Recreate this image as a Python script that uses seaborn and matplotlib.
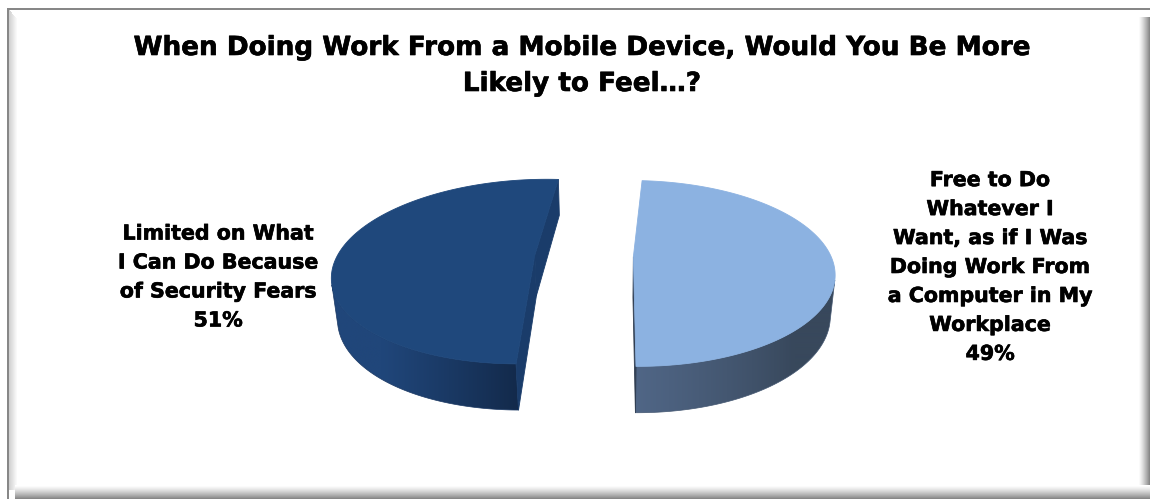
import numpy as np
import matplotlib
matplotlib.use("Agg")
import matplotlib.pyplot as plt
import matplotlib.patheffects as pe
import seaborn as sns
from matplotlib.patches import Polygon, Rectangle
from matplotlib.colors import to_rgb

sns.set_theme(style="white")
plt.rcParams["font.family"] = ["DejaVu Sans"]

# ---- data ----
title = "When Doing Work From a Mobile Device, Would You Be More\nLikely to Feel\u2026?"
categories = [
    "Free to Do\nWhatever I\nWant, as if I Was\nDoing Work From\na Computer in My\nWorkplace",
    "Limited on What\nI Can Do Because\nof Security Fears",
]
shares = [49, 51]

# ---- styling ----
top_colors = ["#8cb2e1", "#1f487c"]
side_lit = ["#506686", "#20467a"]
side_shade = ["#38485c", "#132a4b"]
cut_colors = ["#2f3d51", "#1a3c6a"]
shade_range = [(-0.3, 0.45), (0.45, 0.9)]
label_pos = [(990, 267), (218, 277)]

W, H = 1150, 499
fig = plt.figure(figsize=(W / 100, H / 100), dpi=100)
ax = fig.add_axes([0, 0, 1, 1])
ax.set_xlim(0, W)
ax.set_ylim(H, 0)
ax.axis("off")

# ---- chart frame with bevel / shadow ----
gray = "#878787"
ax.add_patch(Rectangle((7, 8), W - 7, 2, color=gray, lw=0, zorder=5))
ax.add_patch(Rectangle((7, 8), 2, H - 8, color=gray, lw=0, zorder=5))
for i in range(9):  # left inner bevel
    c = 0.82 + 0.18 * i / 8
    ax.add_patch(Rectangle((9 + i, 10 + i * 1.2), 1, 480 - i * 1.2,
                           color=(c, c, c), lw=0, zorder=4))
for i in range(12):  # right shadow
    c = 1.0 - 0.47 * (i / 11) ** 1.3
    ax.add_patch(Rectangle((1138 + i, 17), 1, H - 17,
                           color=(c, c, c), lw=0, zorder=4))
for i in range(14):  # bottom shadow
    c = 1.0 - 0.47 * (i / 13) ** 1.3
    ax.add_patch(Rectangle((15, 485 + i), W - 15, 1,
                           color=(c, c, c), lw=0, zorder=4))

# ---- 3-D exploded pie (perspective projection) ----
start = 4.0          # degrees clockwise from 12 o'clock
thick = 0.235
explode = 0.25
elev = np.radians(27.0)
dist = 5.0
cam_dx = 0.15
scale = 197.5
cx0, cy0 = 584, 256

C = np.array([cam_dx, -dist * np.cos(elev), dist * np.sin(elev)])
e_right = np.array([1.0, 0.0, 0.0])
e_up = np.array([0.0, np.sin(elev), np.cos(elev)])
e_fwd = np.array([0.0, np.cos(elev), -np.sin(elev)])
light = np.array([-1.0, -0.5, 0.0])
light /= np.linalg.norm(light)


def proj(P):
    P = np.atleast_2d(P)
    v = P - C
    k = dist / (v @ e_fwd)
    return np.column_stack([cx0 + scale * ((v @ e_right) * k + cam_dx),
                            cy0 - scale * (v @ e_up) * k])


def mix(c1, c2, t):
    a, b = np.array(to_rgb(c1)), np.array(to_rgb(c2))
    return a + (b - a) * np.asarray(t)[..., None]


def draw_face(P, color, z):
    ax.add_patch(Polygon(proj(P), closed=True, facecolor=color,
                         edgecolor=color, lw=0.6, zorder=z, joinstyle="round"))


fracs = np.array(shares) / np.sum(shares)
bounds = start + 360 * np.concatenate([[0], np.cumsum(fracs)])
bold = [pe.withStroke(linewidth=0.45, foreground="black")]

for i in range(len(shares)):
    t1, t2 = np.radians(bounds[i]), np.radians(bounds[i + 1])
    tm = 0.5 * (t1 + t2)
    off = np.array([explode * np.sin(tm), explode * np.cos(tm), 0.0])
    apex_top = off.copy()
    apex_bot = off + [0, 0, -thick]
    th = np.linspace(t1, t2, 400)
    normals = np.column_stack([np.sin(th), np.cos(th), np.zeros_like(th)])
    rim = normals + off
    rim_b = rim + [0, 0, -thick]

    # outer curved side: visible part as one outline, shaded by a gradient
    vis = np.einsum("ij,ij->i", normals, C - rim) > 0
    if vis.any():
        idx = np.where(vis)[0]
        seg_t, seg_b = rim[idx], rim_b[idx]
        outline = proj(np.vstack([seg_t, seg_b[::-1]]))
        poly = Polygon(outline, closed=True, facecolor="none", edgecolor="none")
        ax.add_patch(poly)
        lo, hi = shade_range[i]
        shade = np.clip((normals[idx] @ light - lo) / (hi - lo), 0, 1)
        xs = proj(seg_t)[:, 0]
        order = np.argsort(xs)
        x0, x1 = outline[:, 0].min(), outline[:, 0].max()
        y0, y1 = outline[:, 1].min(), outline[:, 1].max()
        grid = np.linspace(x0, x1, 600)
        tcol = np.interp(grid, xs[order], shade[order])
        img = mix(side_shade[i], side_lit[i], tcol)[None, :, :]
        im = ax.imshow(img, extent=(x0, x1, y1, y0), aspect="auto",
                       interpolation="bilinear", zorder=2)
        im.set_clip_path(poly)
        ax.add_patch(Polygon(outline, closed=True, facecolor="none",
                             edgecolor=tuple(mix(side_shade[i], side_lit[i], 0.5)),
                             lw=0.5, zorder=2))

    # flat cut faces
    for ang, edge_t, edge_b in [(t1 - np.pi / 2, rim[0], rim_b[0]),
                                (t2 + np.pi / 2, rim[-1], rim_b[-1])]:
        n = np.array([np.sin(ang), np.cos(ang), 0.0])
        mid = 0.5 * (apex_top + edge_b)
        if n @ (C - mid) > 0:
            draw_face(np.array([apex_top, edge_t, edge_b, apex_bot]), cut_colors[i], 2.5)

    # top face
    draw_face(np.vstack([apex_top, rim]), top_colors[i], 3)

    # category label with share
    lx, ly = label_pos[i]
    ax.text(lx, ly, f"{categories[i]}\n{shares[i]}%", ha="center", va="center",
            fontsize=14.8, fontweight="bold", color="black", linespacing=1.56,
            zorder=6, path_effects=bold)

ax.text(582, 66, title, ha="center", va="center", fontsize=18.9,
        fontweight="bold", color="black", linespacing=1.5, zorder=6,
        path_effects=bold)

fig.savefig("out.png", dpi=100, facecolor="white")
